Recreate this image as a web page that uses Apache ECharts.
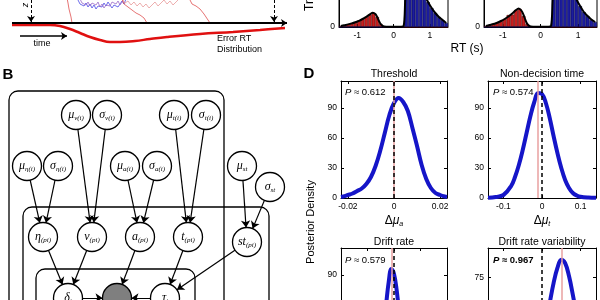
<!DOCTYPE html>
<html>
<head>
<meta charset="utf-8">
<script src="https://cdn.jsdelivr.net/npm/echarts@6.0.0/dist/echarts.min.js"></script>
<style>
html, body { margin: 0; padding: 0; background: #fff; }
#chart { width: 600px; height: 300px; }
</style>
</head>
<body>
<div id="chart"></div>
<script>
// ---- panel A (left): diffusion sketch, x = time, y = evidence (bound at 0) ----
var errorRt = [[0, -2], [38, -2], [48, -3], [58, -6], [68, -10], [78, -14], [88, -17], [98, -19], [108, -19], [123, -18], [138, -16], [155, -14], [188, -11], [221, -9], [248, -7], [273, -5]];
var walkBlue = [[66, 23], [68, 19], [70, 21], [72, 17], [74, 20], [76, 16], [78, 19], [80, 15], [82, 18], [84, 14], [86, 17], [88, 19], [90, 16], [92, 20], [94, 17], [96, 21], [98, 18], [100, 15], [102, 18], [104, 20], [106, 16], [108, 19], [110, 22], [112, 19], [114, 24]];
var walkPurple = [[68, 24], [70, 20], [72, 22], [74, 18], [76, 21], [78, 17], [80, 20], [82, 22], [84, 18], [86, 21], [88, 16], [90, 19], [92, 15], [94, 18], [96, 20], [98, 17], [100, 21], [102, 23], [104, 19], [106, 22], [108, 18], [110, 21], [112, 25]];
var walkPink = [[110, 24], [113, 20], [116, 22], [119, 18], [122, 21], [125, 17], [128, 20], [131, 16], [134, 19], [137, 15], [140, 18], [143, 21], [146, 17], [149, 20], [152, 23], [155, 19], [158, 22], [161, 18], [164, 21], [167, 24]];
var walkRed1 = [[54, 30], [56, 20], [57, 14], [59, 6], [60, 0]];
var walkRed2 = [[110, 24], [112, 19], [114, 21], [116, 16], [118, 18], [120, 13], [122, 15], [124, 10], [126, 12], [128, 8], [130, 9], [132, 5], [134, 3], [135, 0]];
var walkRed3 = [[178, 23], [180, 19], [182, 21], [184, 17], [186, 18], [188, 14], [190, 12], [192, 9], [194, 6], [196, 3], [198, 0]];

// ---- panel A (right): RT histograms ----
var rtBins = [-1.45, -1.35, -1.25, -1.15, -1.05, -0.95, -0.85, -0.75, -0.65, -0.55, -0.45, -0.35, -0.25, -0.15, -0.05, 0.05, 0.15, 0.25, 0.35, 0.45, 0.55, 0.65, 0.75, 0.85, 0.95, 1.05, 1.15, 1.25, 1.35, 1.45];
var errCountsL = [1, 2, 2.5, 3.5, 5, 6.5, 8, 10, 12.5, 14, 10, 3, 0, 0, 0, 0, 0, 0, 0, 0, 0, 0, 0, 0, 0, 0, 0, 0, 0, 0];
var corCountsL = [0, 0, 0, 0, 0, 0, 0, 0, 0, 0, 0, 0, 0, 0, 0, 0, 0, 0, 55, 85, 90, 75, 45, 32, 25, 19, 14, 10, 7, 4];
var errCountsR = [1, 2, 3, 4.5, 6, 8, 12, 12.5, 17, 18, 11, 3, 0, 0, 0, 0, 0, 0, 0, 0, 0, 0, 0, 0, 0, 0, 0, 0, 0, 0];
var corCountsR = [0, 0, 0, 0, 0, 0, 0, 0, 0, 0, 0, 0, 0, 0, 0, 0, 0, 0, 60, 90, 95, 80, 55, 38, 28, 21, 15, 11, 7, 5];
var fitL = [[-1.45, 1], [-1.35, 1.8], [-1.25, 2.6], [-1.15, 3.6], [-1.05, 4.8], [-0.95, 6.2], [-0.85, 8], [-0.75, 10.2], [-0.65, 12.6], [-0.57, 14.3], [-0.5, 13], [-0.45, 10], [-0.4, 6], [-0.35, 2.8], [-0.3, 1], [-0.2, 0.3], [0, 0.2], [0.2, 0.3], [0.28, 1], [0.32, 25], [0.36, 60], [0.45, 85], [0.55, 92], [0.65, 78], [0.75, 52], [0.85, 33], [0.95, 25], [1.05, 19], [1.15, 14], [1.25, 10], [1.35, 7], [1.45, 4]];
var fitR = [[-1.45, 1], [-1.35, 2], [-1.25, 3], [-1.15, 4.3], [-1.05, 6], [-0.95, 8], [-0.85, 10.5], [-0.75, 13.5], [-0.65, 17], [-0.58, 18.5], [-0.5, 16], [-0.45, 12], [-0.4, 7], [-0.35, 3], [-0.3, 1], [-0.2, 0.3], [0, 0.2], [0.2, 0.3], [0.28, 1], [0.32, 25], [0.36, 60], [0.45, 88], [0.55, 96], [0.65, 82], [0.75, 57], [0.85, 38], [0.95, 28], [1.05, 21], [1.15, 15], [1.25, 11], [1.35, 7.5], [1.45, 5]];

// ---- panel D: posterior densities of group differences ----
var threshX = [-0.023, -0.022, -0.020, -0.018, -0.016, -0.014, -0.012, -0.010, -0.008, -0.006, -0.004, -0.002, 0, 0.002, 0.004, 0.006, 0.008, 0.010, 0.012, 0.014, 0.016, 0.018, 0.020, 0.022, 0.023];
var threshY = [1, 1.5, 3, 4.5, 7, 9.5, 14, 21, 32, 47, 65, 83, 95, 100, 96, 87, 70, 52, 33, 19, 10, 5, 3, 1.5, 1];
var nondecX = [-0.14, -0.12, -0.10, -0.08, -0.07, -0.06, -0.05, -0.04, -0.03, -0.02, -0.01, 0, 0.01, 0.02, 0.03, 0.04, 0.05, 0.06, 0.07, 0.08, 0.09, 0.10, 0.12, 0.14];
var nondecY = [0.3, 1, 3, 12, 21, 33, 48, 65, 82, 96, 105, 104, 95, 80, 62, 45, 30, 18, 10, 5, 2.5, 1.2, 0.4, 0.2];
var driftX = [-0.2, -0.1, -0.09, -0.08, -0.07, -0.06, -0.05, -0.04, -0.03, -0.02, -0.01, 0, 0.01, 0.02, 0.03, 0.04, 0.05, 0.06, 0.07, 0.08, 0.2];
var driftY = [0, 0.3, 0.6, 1.5, 4, 8, 19, 37, 60, 83, 96, 91, 75, 51, 30, 14, 6, 2, 0.8, 0.3, 0];
var dvarX = [-0.14, -0.08, -0.04, -0.02, 0, 0.01, 0.02, 0.03, 0.04, 0.05, 0.06, 0.07, 0.08, 0.09, 0.10, 0.11, 0.12, 0.13, 0.14];
var dvarY = [0, 0, 1, 6, 22, 36, 53, 70, 83, 90, 87, 76, 60, 42, 27, 16, 9, 4, 2];
var panelTitles = ['Threshold', 'Non-decision time', 'Drift rate', 'Drift rate variability'];
var pValues = ['0.612', '0.574', '0.579', '0.967'];
var observedDiff = [0.0022, -0.009, -0.007, 0.052];

// ---- panel B: graphical model ----
var modelNodes = [
    ['muV', 'μ', 'v(i)'], ['sigV', 'σ', 'v(i)'], ['muT', 'μ', 't(i)'], ['sigT', 'σ', 't(i)'],
    ['muEta', 'μ', 'η(i)'], ['sigEta', 'σ', 'η(i)'], ['muA', 'μ', 'a(i)'], ['sigA', 'σ', 'a(i)'],
    ['muSt', 'μ', 'st'], ['sigSt', 'σ', 'st'],
    ['eta', 'η', '(pi)'], ['v', 'v', '(pi)'], ['a', 'a', '(pi)'], ['t', 't', '(pi)'], ['st', 'st', '(pi)'],
    ['delta', 'δ', 'i'], ['y', '', ''], ['tau', 'τ', 'i']
];
var modelEdges = [
    ['muV', 'v'], ['sigV', 'v'], ['muT', 't'], ['sigT', 't'], ['muEta', 'eta'], ['sigEta', 'eta'],
    ['muA', 'a'], ['sigA', 'a'], ['muSt', 'st'], ['sigSt', 'st'],
    ['eta', 'delta'], ['v', 'delta'], ['a', 'y'], ['t', 'tau'], ['st', 'tau'], ['delta', 'y'], ['tau', 'y']
];
// layout of the diagram (pixels of the panel)
var modelLayout = {
    muV: [76, 115], sigV: [107, 115], muT: [174, 115], sigT: [206, 115],
    muEta: [27, 166], sigEta: [58, 166], muA: [125, 166], sigA: [157, 166], muSt: [242, 166], sigSt: [270, 187],
    eta: [43, 237], v: [92, 237], a: [140, 237], t: [188, 237], st: [247, 242],
    delta: [68, 298], y: [117, 298], tau: [165, 298]
};

var font = 'Liberation Sans';
var blue = '#1515c8';

var chart = echarts.init(document.getElementById('chart'), null, {renderer: 'canvas'});

var grids = [
    {left: 12, top: 0, width: 275, height: 50},
    {left: 339, top: -73, width: 109, height: 100, show: true, borderColor: '#000', borderWidth: 1},
    {left: 484, top: -73, width: 113, height: 100, show: true, borderColor: '#000', borderWidth: 1},
    {left: 341, top: 81, width: 106, height: 117},
    {left: 488, top: 81, width: 108, height: 117},
    {left: 341, top: 248, width: 106, height: 117},
    {left: 488, top: 248, width: 108, height: 117},
    {left: 0, top: 0, width: 300, height: 300}
];
grids.forEach(function (g) {
    g.containLabel = false;
    g.outerBoundsMode = 'none';
});

function hiddenAxis(gi, min, max, inverse) {
    return {type: 'value', gridIndex: gi, min: min, max: max, inverse: !!inverse, show: false};
}

function boxAxis(gi, pos, min, max, ticks, showLabels) {
    return {
        type: 'value', gridIndex: gi, position: pos, min: min, max: max,
        axisLine: {show: true, onZero: false, lineStyle: {color: '#000', width: 1}},
        axisTick: {show: true, inside: true, length: 3, customValues: ticks, lineStyle: {color: '#000'}},
        axisLabel: {show: showLabels, customValues: ticks, fontFamily: font, fontSize: 8.5, color: '#000', margin: 4},
        splitLine: {show: false}
    };
}

var dRanges = [[-0.023, 0.023, [-0.02, 0, 0.02]], [-0.14, 0.14, [-0.1, 0, 0.1]], [-0.2, 0.2, [-0.1, 0, 0.1]], [-0.14, 0.14, [-0.1, 0, 0.1]]];
var dYRanges = [[117, [0, 30, 60, 90]], [117, [0, 30, 60, 90]], [117, [0, 30, 60, 90]], [100, [0, 25, 50, 75]]];

var xAxes = [hiddenAxis(0, 0, 275), boxAxis(1, 'bottom', -1.5, 1.5, [-1, 0, 1], true), boxAxis(2, 'bottom', -1.5, 1.5, [-1, 0, 1], true)];
var yAxes = [hiddenAxis(0, -27, 23), boxAxis(1, 'left', 0, 100, [0], true), boxAxis(2, 'left', 0, 100, [0], true)];
dRanges.forEach(function (r, k) {
    xAxes.push(boxAxis(3 + k, 'bottom', r[0], r[1], r[2], true));
    yAxes.push(boxAxis(3 + k, 'left', 0, dYRanges[k][0], dYRanges[k][1], true));
});
dRanges.forEach(function (r, k) {
    xAxes.push(boxAxis(3 + k, 'top', r[0], r[1], r[2], false));
    yAxes.push(boxAxis(3 + k, 'right', 0, dYRanges[k][0], dYRanges[k][1], false));
});
xAxes.push(hiddenAxis(7, 0, 300));
yAxes.push(hiddenAxis(7, 0, 300, true));

var series = [];

function walk(data, color) {
    return {type: 'line', xAxisIndex: 0, yAxisIndex: 0, data: data, showSymbol: false,
        lineStyle: {color: color, width: 0.8}, silent: true};
}

var dash = {color: '#000', width: 1, type: [3, 2]};
series.push(walk(walkBlue, '#4a4ae6'));
series.push(walk(walkPurple, '#9a6ac8'));
series.push(walk(walkPink, '#e89a9a'));
series.push(walk(walkRed1, '#e05050'));
series.push(walk(walkRed2, '#e05050'));
series.push(walk(walkRed3, '#e05050'));
series.push({
    type: 'line', xAxisIndex: 0, yAxisIndex: 0, data: errorRt, smooth: 0.4, showSymbol: false,
    lineStyle: {color: '#e01010', width: 2.5}, z: 4,
    markLine: {
        silent: true, symbolSize: 6, label: {show: false},
        data: [
            {yAxis: 0, symbol: 'none', lineStyle: {color: '#000', width: 2, type: 'solid'}},
            [{coord: [19, 23], symbol: 'none', lineStyle: dash}, {coord: [19, 1], symbol: 'arrow', lineStyle: dash}],
            [{coord: [262, 23], symbol: 'none', lineStyle: dash}, {coord: [262, 1], symbol: 'arrow', lineStyle: dash}],
            [{coord: [8, -13], symbol: 'none', lineStyle: {color: '#000', width: 1.5, type: 'solid'}},
             {coord: [55, -13], symbol: 'arrow', lineStyle: {color: '#000', width: 1.5, type: 'solid'}}]
        ]
    }
});

function histSeries(gi, counts, color, edge, width) {
    return {
        type: 'bar', xAxisIndex: gi, yAxisIndex: gi, barWidth: width, barGap: '-100%',
        data: rtBins.map(function (b, i) { return [b, counts[i]]; }),
        itemStyle: {color: color, borderColor: edge, borderWidth: 0.6}, silent: true
    };
}
series.push(histSeries(1, errCountsL, '#c81e1e', '#5a0808', 3.6));
series.push(histSeries(1, corCountsL, '#1c1c9e', '#06064a', 3.6));
series.push({type: 'line', xAxisIndex: 1, yAxisIndex: 1, data: fitL, smooth: 0.3, showSymbol: false,
    lineStyle: {color: '#000', width: 2}, z: 4});
series.push(histSeries(2, errCountsR, '#c81e1e', '#5a0808', 3.75));
series.push(histSeries(2, corCountsR, '#1c1c9e', '#06064a', 3.75));
series.push({type: 'line', xAxisIndex: 2, yAxisIndex: 2, data: fitR, smooth: 0.3, showSymbol: false,
    lineStyle: {color: '#000', width: 2}, z: 4});

var dX = [threshX, nondecX, driftX, dvarX];
var dY = [threshY, nondecY, driftY, dvarY];
dX.forEach(function (xs, k) {
    series.push({
        type: 'line', xAxisIndex: 3 + k, yAxisIndex: 3 + k,
        data: xs.map(function (x, i) { return [x, dY[k][i]]; }),
        smooth: 0.4, showSymbol: false,
        lineStyle: {color: blue, width: 4}, z: 3,
        markLine: {
            silent: true, symbol: 'none', label: {show: false},
            data: [
                {xAxis: observedDiff[k], lineStyle: {color: '#e8a0a0', width: 1.5, type: 'solid'}},
                {xAxis: 0, lineStyle: {color: '#000', width: 1.5, type: [4, 3]}}
            ]
        }
    });
});

series.push({
    type: 'graph', coordinateSystem: 'cartesian2d', xAxisIndex: 11, yAxisIndex: 11,
    symbol: 'circle', symbolSize: 29,
    data: modelNodes.map(function (n) {
        return {
            name: n[0], value: modelLayout[n[0]],
            itemStyle: n[0] === 'y' ? {color: '#7f7f7f'} : undefined,
            label: {formatter: n[1] ? '{m|' + n[1] + '}{s|' + n[2] + '}' : ''}
        };
    }),
    links: modelEdges.map(function (e) { return {source: e[0], target: e[1]}; }),
    edgeSymbol: ['none', 'arrow'], edgeSymbolSize: 7,
    itemStyle: {color: '#fff', borderColor: '#000', borderWidth: 1.3},
    lineStyle: {color: '#000', width: 1.2, opacity: 1, curveness: 0},
    label: {
        show: true, position: 'inside', color: '#000',
        rich: {
            m: {fontFamily: 'Liberation Serif', fontStyle: 'italic', fontSize: 12, color: '#000'},
            s: {fontFamily: 'Liberation Serif', fontStyle: 'italic', fontSize: 7, color: '#000', padding: [6, 0, 0, 0]}
        }
    },
    emphasis: {disabled: true}, silent: true
});

function txt(x, y, text, size, extra) {
    var el = {type: 'text', x: x, y: y, style: {text: text, fontFamily: font, fontSize: size, fill: '#000', align: 'center', verticalAlign: 'middle'}};
    if (extra) {
        Object.keys(extra).forEach(function (k) {
            if (k === 'rotation') el.rotation = extra[k]; else el.style[k] = extra[k];
        });
    }
    return el;
}

var graphics = [
    {type: 'rect', shape: {x: 9, y: 91, width: 215, height: 260, r: 9}, style: {fill: 'none', stroke: '#000', lineWidth: 1.3}},
    {type: 'rect', shape: {x: 23, y: 207, width: 246, height: 150, r: 9}, style: {fill: 'none', stroke: '#000', lineWidth: 1.3}},
    {type: 'rect', shape: {x: 36, y: 269, width: 159, height: 100, r: 9}, style: {fill: 'none', stroke: '#000', lineWidth: 1.3}},
    txt(8, 75, 'B', 15, {fontWeight: 'bold'}),
    txt(309, 74, 'D', 15, {fontWeight: 'bold'}),
    txt(25, 5, 'z', 9, {fontStyle: 'italic', rotation: Math.PI / 2}),
    txt(42, 44, 'time', 9),
    txt(217, 39, 'Error RT', 9, {align: 'left'}),
    txt(217, 50, 'Distribution', 9, {align: 'left'}),
    txt(467, 49, 'RT (s)', 12),
    txt(310, 11, 'Trials', 12, {align: 'left', rotation: Math.PI / 2}),
    txt(311, 222, 'Posterior Density', 11, {rotation: Math.PI / 2}),
    txt(394, 221, '{d|Δ}{m|μ}{s|a}', 12, {rich: {
        d: {fontFamily: font, fontSize: 12}, m: {fontFamily: font, fontStyle: 'italic', fontSize: 12},
        s: {fontFamily: font, fontStyle: 'italic', fontSize: 7, padding: [6, 0, 0, 0]}}}),
    txt(542, 221, '{d|Δ}{m|μ}{s|t}', 12, {rich: {
        d: {fontFamily: font, fontSize: 12}, m: {fontFamily: font, fontStyle: 'italic', fontSize: 12},
        s: {fontFamily: font, fontStyle: 'italic', fontSize: 7, padding: [6, 0, 0, 0]}}})
];
var titlePos = [[394, 74], [542, 74], [394, 242], [542, 242]];
var pPos = [[345, 92], [493, 92], [345, 260], [493, 260]];
panelTitles.forEach(function (t, k) {
    graphics.push(txt(titlePos[k][0], titlePos[k][1], t, 10.5));
    var sig = Number(pValues[k]) > 0.95;
    var c = sig ? '#d42020' : '#000';
    graphics.push(txt(pPos[k][0], pPos[k][1], '{p|P}{r| ≈ ' + pValues[k] + '}', 9.5, {
        align: 'left',
        rich: {
            p: {fontFamily: font, fontStyle: 'italic', fontWeight: sig ? 'bold' : 'normal', fontSize: 9.5, color: c},
            r: {fontFamily: font, fontWeight: sig ? 'bold' : 'normal', fontSize: 9.5, color: c}
        }
    }));
});

chart.setOption({
    animation: false,
    grid: grids,
    xAxis: xAxes,
    yAxis: yAxes,
    series: series,
    graphic: {elements: graphics}
});
</script>
</body>
</html>
